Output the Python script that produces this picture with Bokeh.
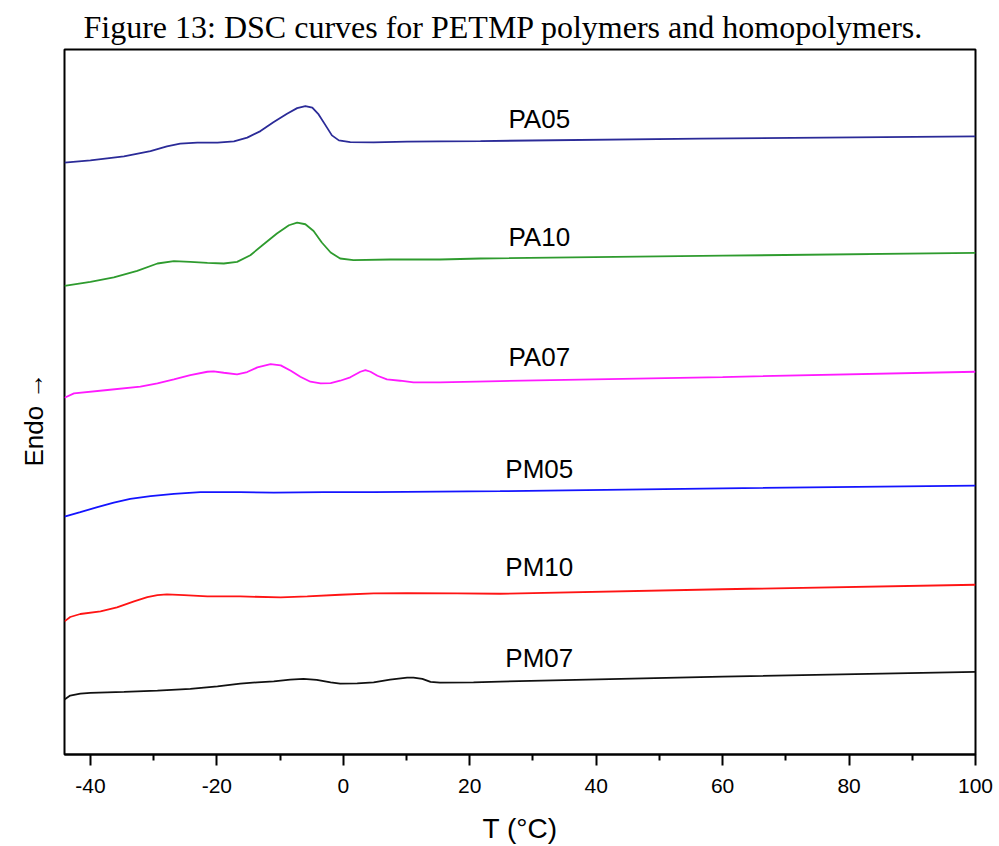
from bokeh.plotting import figure
from bokeh.models import Range1d, Label, FixedTicker, Title
from bokeh.embed import file_html
from bokeh.resources import INLINE

# ---- data (T in °C, heat flow in arbitrary units, curves offset) ----
pa05_t = [-44.1, -40.0, -34.7, -30.5, -27.9, -25.8, -23.1, -19.9, -17.3, -15.2, -13.1, -11.0, -8.9, -7.3, -6.0, -4.9, -3.9, -2.8, -1.8, -0.7, 1.1, 4.8, 10.1, 15.3, 21.7, 56.5, 100.0]
pa05_y = [592.7, 595.0, 599.0, 604.3, 609.0, 611.7, 612.7, 612.7, 614.0, 617.7, 624.3, 633.3, 641.7, 647.3, 649.3, 647.7, 641.0, 630.0, 620.0, 615.0, 613.3, 613.0, 613.7, 614.0, 614.3, 616.7, 619.0]

pa10_t = [-44.1, -40.0, -36.3, -32.6, -29.4, -26.8, -24.2, -21.5, -18.9, -16.8, -14.7, -12.6, -10.5, -8.6, -7.3, -6.0, -4.7, -3.4, -2.0, -0.5, 1.6, 7.4, 15.3, 21.7, 60.0, 100.0]
pa10_y = [469.3, 473.3, 477.7, 484.3, 491.7, 494.0, 493.3, 492.3, 491.7, 493.3, 500.0, 511.0, 521.7, 530.0, 532.7, 531.0, 524.3, 512.7, 502.7, 496.7, 495.0, 495.7, 495.7, 496.7, 499.5, 502.3]

pa07_t = [-44.1, -42.6, -37.3, -32.1, -29.4, -26.8, -24.2, -21.5, -20.5, -18.9, -16.8, -15.2, -13.6, -11.5, -9.9, -8.3, -6.8, -5.2, -3.6, -2.0, -0.5, 1.1, 2.7, 3.5, 4.3, 5.4, 6.9, 9.0, 11.1, 15.3, 24.8, 60.0, 100.0]
pa07_y = [357.3, 361.7, 365.0, 368.3, 371.7, 375.7, 380.0, 383.3, 383.7, 382.3, 380.7, 383.0, 387.7, 391.0, 389.7, 384.3, 378.3, 373.3, 371.7, 372.0, 374.3, 377.7, 383.3, 385.0, 383.3, 379.3, 375.7, 374.3, 372.7, 372.7, 374.0, 378.0, 383.3]

pm05_t = [-44.1, -41.6, -38.9, -36.3, -33.7, -30.5, -26.8, -22.6, -16.3, -11.0, -3.1, 4.8, 24.8, 60.0, 100.0]
pm05_y = [238.3, 242.7, 247.7, 252.3, 256.0, 258.7, 261.0, 262.7, 262.7, 262.3, 262.7, 262.7, 263.7, 266.5, 269.3]

pm10_t = [-44.1, -43.2, -41.6, -38.4, -35.8, -33.1, -31.0, -29.4, -27.9, -25.2, -21.5, -16.3, -9.9, -5.7, -0.5, 4.8, 10.1, 18.0, 24.8, 60.0, 100.0]
pm10_y = [133.3, 137.7, 140.7, 143.3, 147.3, 153.3, 157.7, 159.7, 160.3, 159.7, 158.3, 158.3, 157.3, 158.3, 160.0, 161.3, 161.7, 161.3, 161.0, 165.5, 170.0]

pm07_t = [-44.1, -43.2, -41.6, -40.0, -34.7, -29.4, -24.2, -19.9, -16.3, -13.6, -11.0, -8.4, -6.3, -4.2, -2.0, -0.5, 2.2, 4.8, 7.4, 10.1, 11.1, 12.5, 13.8, 15.3, 20.6, 24.8, 60.0, 100.0]
pm07_y = [55.0, 59.0, 61.0, 61.7, 62.7, 64.0, 65.7, 68.3, 71.0, 72.3, 73.3, 75.0, 75.7, 74.7, 72.3, 71.0, 71.3, 72.3, 75.0, 77.0, 77.0, 75.7, 72.7, 72.0, 72.3, 73.0, 78.0, 82.7]

names = ["PA05", "PA10", "PA07", "PM05", "PM10", "PM07"]
label_t = [31.0, 31.0, 31.0, 31.0, 31.0, 31.0]
label_y = [636.5, 518.3, 398.0, 285.7, 188.0, 96.3]
colors = ["#2B2B98", "#2E9B2E", "#FF1AFF", "#1414FF", "#FF1414", "#111111"]
x_ticks = [-40, -20, 0, 20, 40, 60, 80, 100]
x_tick_labels = ["-40", "-20", "0", "20", "40", "60", "80", "100"]
minor_ticks = [-30, -10, 10, 30, 50, 70, 90]

series = [(pa05_t, pa05_y), (pa10_t, pa10_y), (pa07_t, pa07_y),
          (pm05_t, pm05_y), (pm10_t, pm10_y), (pm07_t, pm07_y)]

p = figure(width=999, height=846, output_backend="svg", toolbar_location=None,
           x_range=Range1d(-44.1, 100), y_range=Range1d(0, 706),
           min_border_left=64, min_border_right=24, min_border_top=49, min_border_bottom=91,
           title="Figure 13: DSC curves for PETMP polymers and homopolymers.")

p.title.text_font = "Liberation Serif"
p.title.text_font_size = "32px"
p.title.text_font_style = "normal"
p.title.align = "left"
p.title.offset = 19
p.title.text_color = "black"

ylab = Title(text="Endo →", align="left", offset=288, standoff=31, text_font="Liberation Sans",
             text_font_size="26px", text_font_style="normal", text_color="black")
p.add_layout(ylab, "left")

p.xgrid.visible = False
p.ygrid.visible = False
p.outline_line_color = "black"
p.outline_line_width = 2
p.outline_line_alpha = 1.0

for (t, y), c in zip(series, colors):
    p.line(t, y, line_color=c, line_width=1.8)

for n, lt, ly in zip(names, label_t, label_y):
    p.add_layout(Label(x=lt, y=ly, text=n, text_align="center", text_baseline="middle",
                       text_font="Liberation Sans", text_font_size="26px", text_color="black"))

xa = p.xaxis[0]
xa.ticker = FixedTicker(ticks=x_ticks, minor_ticks=minor_ticks)
xa.major_label_overrides = {t: s for t, s in zip(x_ticks, x_tick_labels)}
xa.axis_label = "T (°C)"
xa.axis_label_text_font = "Liberation Sans"
xa.axis_label_text_font_size = "28px"
xa.axis_label_text_font_style = "normal"
xa.axis_label_text_color = "black"
xa.axis_label_standoff = 17
xa.major_label_text_font = "Liberation Sans"
xa.major_label_text_font_size = "21px"
xa.major_label_text_color = "black"
xa.major_label_standoff = 13
xa.major_tick_in = 0
xa.major_tick_out = 11
xa.minor_tick_in = 0
xa.minor_tick_out = 6
xa.major_tick_line_width = 2
xa.minor_tick_line_width = 2
xa.axis_line_width = 2
xa.axis_line_color = "black"
xa.major_tick_line_color = "black"
xa.minor_tick_line_color = "black"

p.yaxis.visible = False

open("out.html", "w").write(file_html(p, INLINE))
